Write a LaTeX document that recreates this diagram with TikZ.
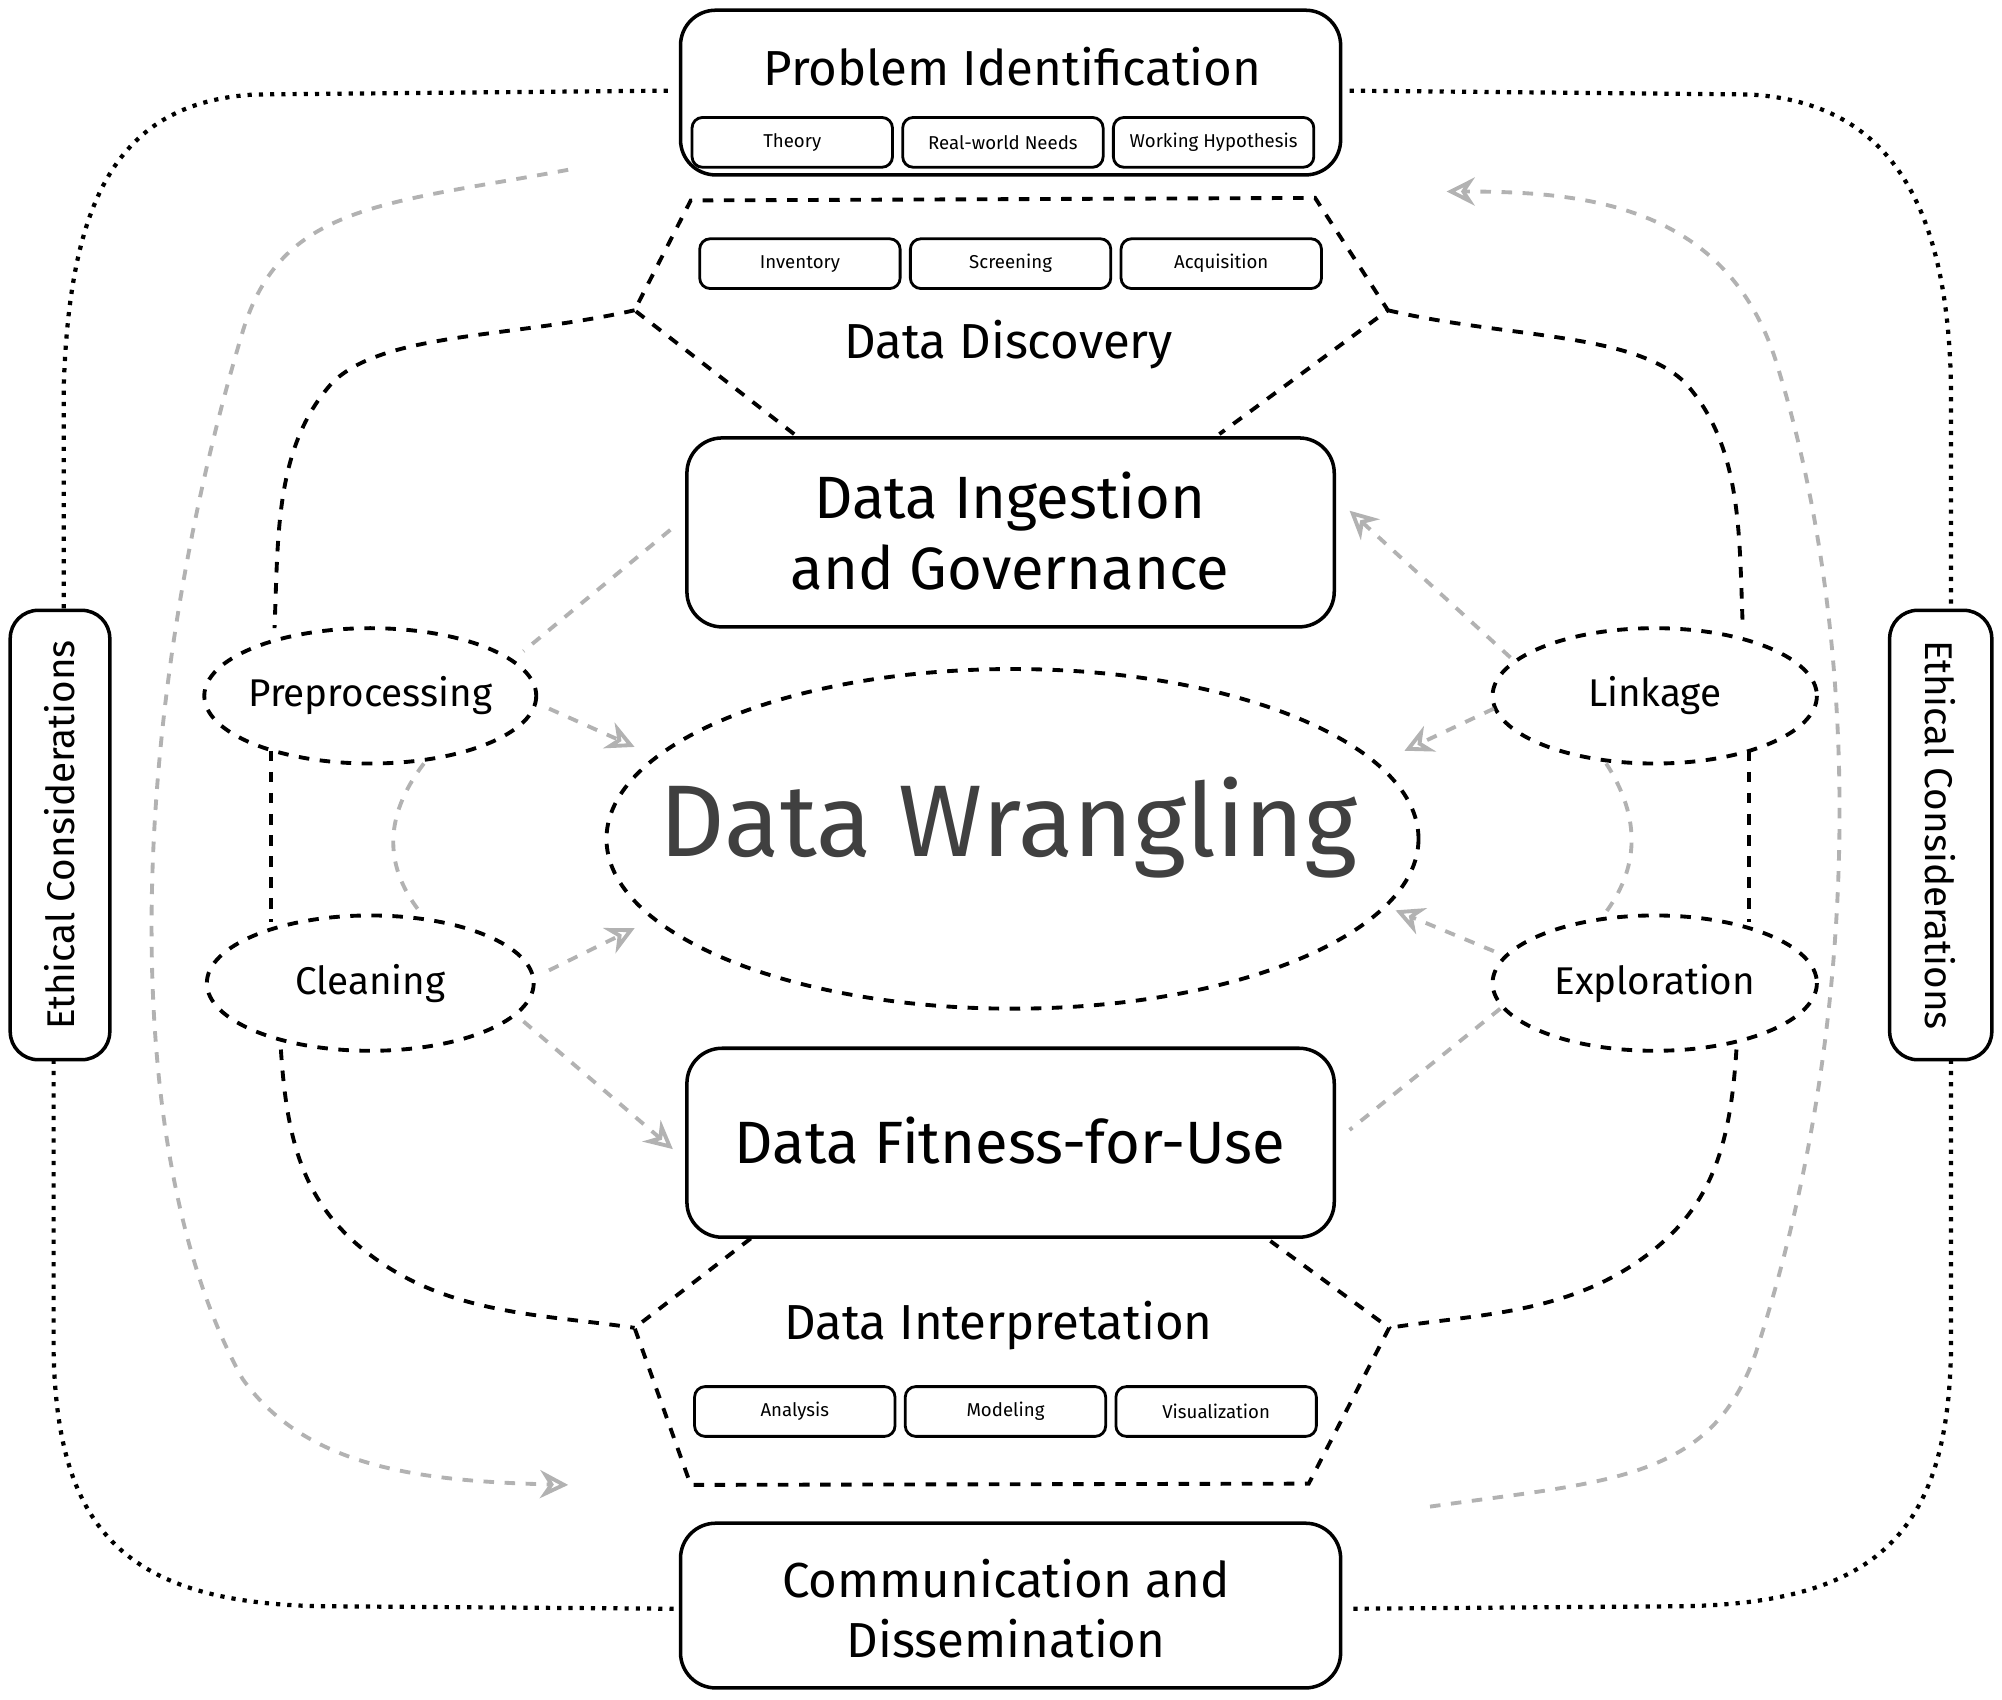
\documentclass[tikz,border=0pt]{standalone}
\usepackage{fontspec}
\setmainfont{Fira Sans}
\usetikzlibrary{arrows.meta}
\begin{document}
\begin{tikzpicture}[x=0.012768cm,y=-0.012768cm,
  box/.style={draw,rounded corners=10pt,line width=1pt},
  sub/.style={draw,rounded corners=3pt,line width=0.8pt,font=\fontsize{5.3}{6}\selectfont},
  hexa/.style={draw,dashed,line width=1.1pt},
  ell/.style={draw,dashed,line width=1.1pt},
  conn/.style={draw,dashed,line width=1.1pt},
  loop/.style={draw,dotted,line width=1.2pt},
  gray/.style={draw=black!30,dashed,line width=1.1pt},
  garr/.style={gray,-{Stealth[open,length=8pt,width=8pt]}},
  lab/.style={font=\fontsize{11}{13}\selectfont}]
\useasboundingbox (0,0) rectangle (1568,1331);
% Problem Identification
\draw[box] (533,8) rectangle (1050,137);
\node[font=\fontsize{14}{16}\selectfont] (pi) at (793,52) {Problem Identification};
\draw[sub] (542,92) rectangle (699,131) node[midway] (s1) {Theory};
\draw[sub] (707,92) rectangle (864,131) node[midway] (s2) {Real-world Needs};
\draw[sub] (872,92) rectangle (1029,131) node[midway] (s3) {Working Hypothesis};
% Data Discovery
\draw[hexa] (622,340) -- (497,243) -- (541,157) -- (1030,155) -- (1087,243) -- (955,340);
\draw[sub] (548,187) rectangle (705,226) node[midway] (s4) {Inventory};
\draw[sub] (713,187) rectangle (870,226) node[midway] (s5) {Screening};
\draw[sub] (878,187) rectangle (1035,226) node[midway] (s6) {Acquisition};
\node[font=\fontsize{14}{16}\selectfont] (dd) at (790,270) {Data Discovery};
% Ingestion
\draw[box] (538,343) rectangle (1045,491);
\node[font=\fontsize{17}{20}\selectfont,align=center] (ing) at (791,416) {Data Ingestion\\and Governance};
% Central
\draw[ell] (793,657) ellipse [x radius=318,y radius=133];
\node[font=\fontsize{29}{32}\selectfont,text=black!75] (dw) at (790,648) {Data Wrangling};
% small ellipses
\draw[ell] (290,545) ellipse [x radius=130,y radius=53];
\node[lab] (pre) at (290,545) {Preprocessing};
\draw[ell] (290,770) ellipse [x radius=128,y radius=53];
\node[lab] (cle) at (290,770) {Cleaning};
\draw[ell] (1296,545) ellipse [x radius=127,y radius=53];
\node[lab] (lin) at (1296,545) {Linkage};
\draw[ell] (1296,770) ellipse [x radius=127,y radius=53];
\node[lab] (exp) at (1296,770) {Exploration};
% Fitness
\draw[box] (538,821) rectangle (1045,969);
\node[font=\fontsize{17}{20}\selectfont] (fit) at (791,893) {Data Fitness-for-Use};
% Interpretation
\draw[hexa] (588,970) -- (497,1040) -- (541,1163) -- (1025,1162) -- (1088,1040) -- (995,972);
\node[font=\fontsize{14}{16}\selectfont] (di) at (782,1038) {Data Interpretation};
\draw[sub] (544,1086) rectangle (701,1125) node[midway] (s7) {Analysis};
\draw[sub] (709,1086) rectangle (866,1125) node[midway] (s8) {Modeling};
\draw[sub] (874,1086) rectangle (1031,1125) node[midway] (s9) {Visualization};
% Communication
\draw[box] (533,1193) rectangle (1050,1322);
\node[font=\fontsize{14}{17}\selectfont,align=center] (com) at (788,1260) {Communication and\\Dissemination};
% Ethical
\draw[box,rounded corners=8pt] (8,478) rectangle (86,830);
\node[lab,rotate=90] (e1) at (47,654) {Ethical Considerations};
\draw[box,rounded corners=8pt] (1480,478) rectangle (1560,830);
\node[lab,rotate=-90] (e2) at (1520,654) {Ethical Considerations};
% dotted loops
\draw[loop] (523,71) -- (200,74) .. controls (90,80) and (55,160) .. (50,300) -- (50,478);
\draw[loop] (42,830) -- (42,1060) .. controls (45,1200) and (100,1255) .. (250,1258) -- (528,1260);
\draw[loop] (1057,71) -- (1370,74) .. controls (1480,80) and (1525,160) .. (1528,300) -- (1528,478);
\draw[loop] (1528,830) -- (1528,1060) .. controls (1525,1200) and (1470,1255) .. (1320,1258) -- (1057,1260);
% black dashed connectors
\draw[conn] (497,243) .. controls (400,265) and (300,260) .. (260,300) .. controls (215,350) and (218,420) .. (215,492);
\draw[conn] (212,588) -- (212,722);
\draw[conn] (220,822) .. controls (225,900) and (240,950) .. (300,990) .. controls (360,1030) and (430,1030) .. (497,1040);
\draw[conn] (1087,243) .. controls (1180,265) and (1280,260) .. (1320,300) .. controls (1365,350) and (1362,420) .. (1365,492);
\draw[conn] (1370,588) -- (1370,722);
\draw[conn] (1360,822) .. controls (1355,900) and (1340,950) .. (1280,990) .. controls (1220,1030) and (1150,1030) .. (1088,1040);
% gray big arrows
\draw[garr] (445,133) .. controls (300,160) and (220,160) .. (190,260) .. controls (100,560) and (90,900) .. (190,1080) .. controls (240,1150) and (330,1160) .. (445,1163);
\draw[garr] (1120,1180) .. controls (1260,1160) and (1340,1160) .. (1375,1060) .. controls (1460,800) and (1460,500) .. (1390,280) .. controls (1350,160) and (1240,150) .. (1133,150);
% gray small
\draw[gray] (525,415) -- (410,510);
\draw[garr] (430,555) -- (497,585);
\draw[gray] (332,598) .. controls (300,640) and (300,680) .. (332,718);
\draw[garr] (430,760) -- (497,727);
\draw[garr] (410,800) -- (527,900);
\draw[garr] (1183,515) -- (1057,400);
\draw[garr] (1170,555) -- (1100,588);
\draw[gray] (1258,598) .. controls (1285,640) and (1285,680) .. (1255,718);
\draw[garr] (1170,745) -- (1093,713);
\draw[gray] (1175,790) -- (1057,885);
\end{tikzpicture}
\end{document}
